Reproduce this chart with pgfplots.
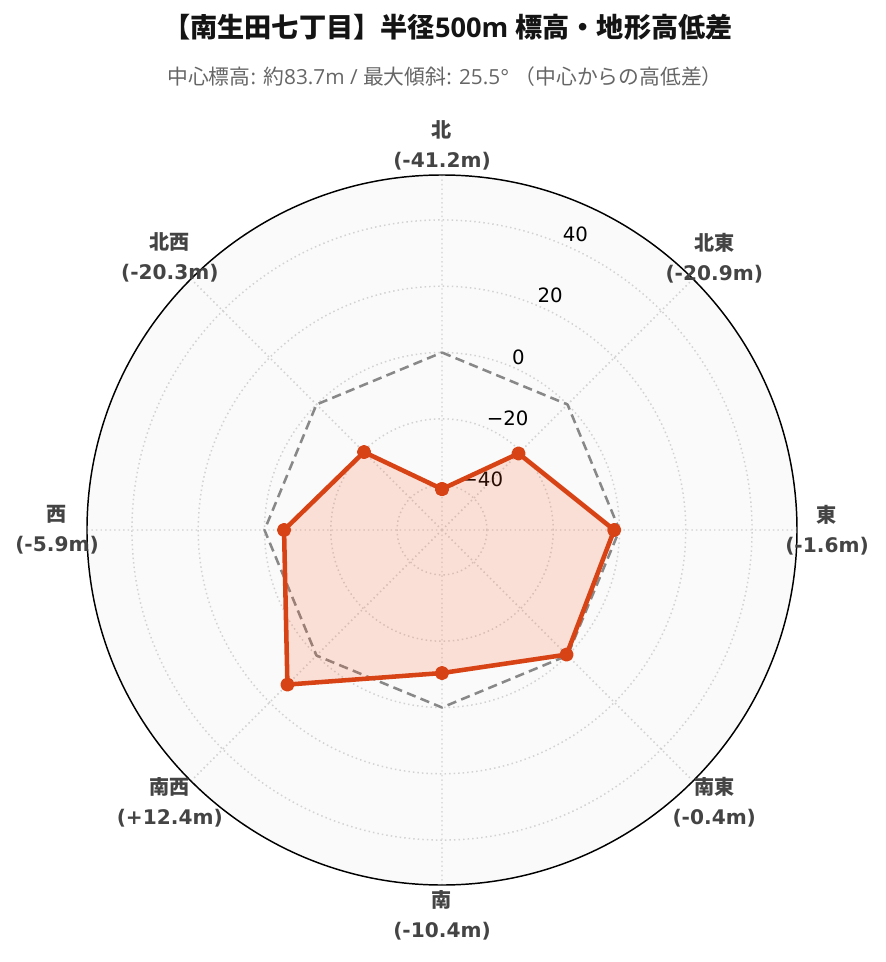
\documentclass[border=0pt]{standalone}
\usepackage{fontspec}
\setmainfont{DejaVu Sans}
\newfontfamily\cjk{Noto Sans CJK JP}
\newfontfamily\os{Open Sans}
\usepackage{pgfplots}
\pgfplotsset{compat=1.18}
\usepgfplotslibrary{polar}
\usepackage{pgfplotstable}
\definecolor{lineC}{RGB}{216,67,21}
\definecolor{fillC}{RGB}{255,87,34}
\definecolor{bgC}{RGB}{250,250,250}
\definecolor{gridC}{RGB}{210,210,210}
\definecolor{refC}{RGB}{136,136,136}
\definecolor{labC}{RGB}{68,68,68}
\definecolor{subC}{RGB}{102,102,102}
\definecolor{titC}{RGB}{20,20,20}

% elevation difference from the centre (m), by direction (deg, 0 = east)
\pgfplotstableread{
ang v
90 -41.2
45 -20.9
0 -1.6
315 -0.4
270 -10.4
225 12.4
180 -5.9
135 -20.3
90 -41.2
}\elev
\pgfplotstableread{
ang v
90 0
45 0
0 0
315 0
270 0
225 0
180 0
135 0
90 0
}\refl
\newcommand{\off}{53.56}

\tikzset{
  rtick/.style={anchor=base west, inner xsep=0pt, xshift=1.5pt, yshift=1.5pt, font=\fontsize{14.8pt}{17pt}\selectfont, text=black},
  dlab/.style={align=center, anchor=center, text=labC, font=\fontsize{15.1pt}{22.5pt}\selectfont\bfseries},
}

\begin{document}
\begin{tikzpicture}
\path[use as bounding box] (-331.5pt,-324pt) rectangle (332.25pt,397.5pt);
\begin{polaraxis}[
  at={(0pt,0pt)}, anchor=center,
  width=532.5pt, height=532.5pt, scale only axis,
  xmin=0, xmax=360, ymin=0, ymax=107.12,
  xtick={0,45,...,315}, xticklabels={},
  ytick={13.56,33.56,53.56,73.56,93.56}, yticklabels={},
  grid=major,
  major grid style={gridC, line width=1.1pt, dash pattern=on 1.1pt off 2.3pt},
  tick style={draw=none},
  x axis line style={black, line width=1.1pt},
  y axis line style={draw=none},
  axis background/.style={fill=bgC},
  clip=false,
]
% radial tick labels (along the 67.5 deg direction)
\node[rtick] at (axis cs:67.5,13.56) {−40};
\node[rtick] at (axis cs:67.5,33.56) {−20};
\node[rtick] at (axis cs:67.5,53.56) {0};
\node[rtick] at (axis cs:67.5,73.56) {20};
\node[rtick] at (axis cs:67.5,93.56) {40};

\addplot[refC, line width=1.9pt, dash pattern=on 7pt off 4pt, no marks, line join=round]
  table[x=ang, y expr=\thisrow{v}+\off]{\refl};
\addplot[lineC, line width=3.4pt, fill=fillC, fill opacity=0.16, line join=round,
  mark=*, mark size=3.6pt, mark options={draw=none, fill=lineC, fill opacity=1}]
  table[x=ang, y expr=\thisrow{v}+\off]{\elev};

% direction labels
\node[dlab] at (axis cs:90,116.17)  {{\cjk\bfseries 北}\\(-41.2m)};
\node[dlab] at (axis cs:45,116.17)  {{\cjk\bfseries 北東}\\(-20.9m)};
\node[dlab] at (axis cs:0,116.17)   {{\cjk\bfseries 東}\\(-1.6m)};
\node[dlab] at (axis cs:315,116.17) {{\cjk\bfseries 南東}\\(-0.4m)};
\node[dlab] at (axis cs:270,116.17) {{\cjk\bfseries 南}\\(-10.4m)};
\node[dlab] at (axis cs:225,116.17) {{\cjk\bfseries 南西}\\(+12.4m)};
\node[dlab] at (axis cs:180,116.17) {{\cjk\bfseries 西}\\(-5.9m)};
\node[dlab] at (axis cs:135,116.17) {{\cjk\bfseries 北西}\\(-20.3m)};
\end{polaraxis}
\node[font={\bfseries\fontsize{20.4pt}{24pt}\selectfont}, text=titC, inner sep=0pt] at (4.5pt,377pt)
  {{\cjk\bfseries 【南生田七丁目】半径}{\os\bfseries 500m }{\cjk\bfseries 標高・地形高低差}};
\node[font={\fontsize{15.6pt}{18pt}\selectfont}, text=subC, inner sep=0pt] at (2.25pt,339.75pt)
  {{\cjk 中心標高}{\os : }{\cjk 約}{\os 83.7m / }{\cjk 最大傾斜}{\os : 25.5° }{\cjk （中心からの高低差）}};
\end{tikzpicture}
\end{document}
